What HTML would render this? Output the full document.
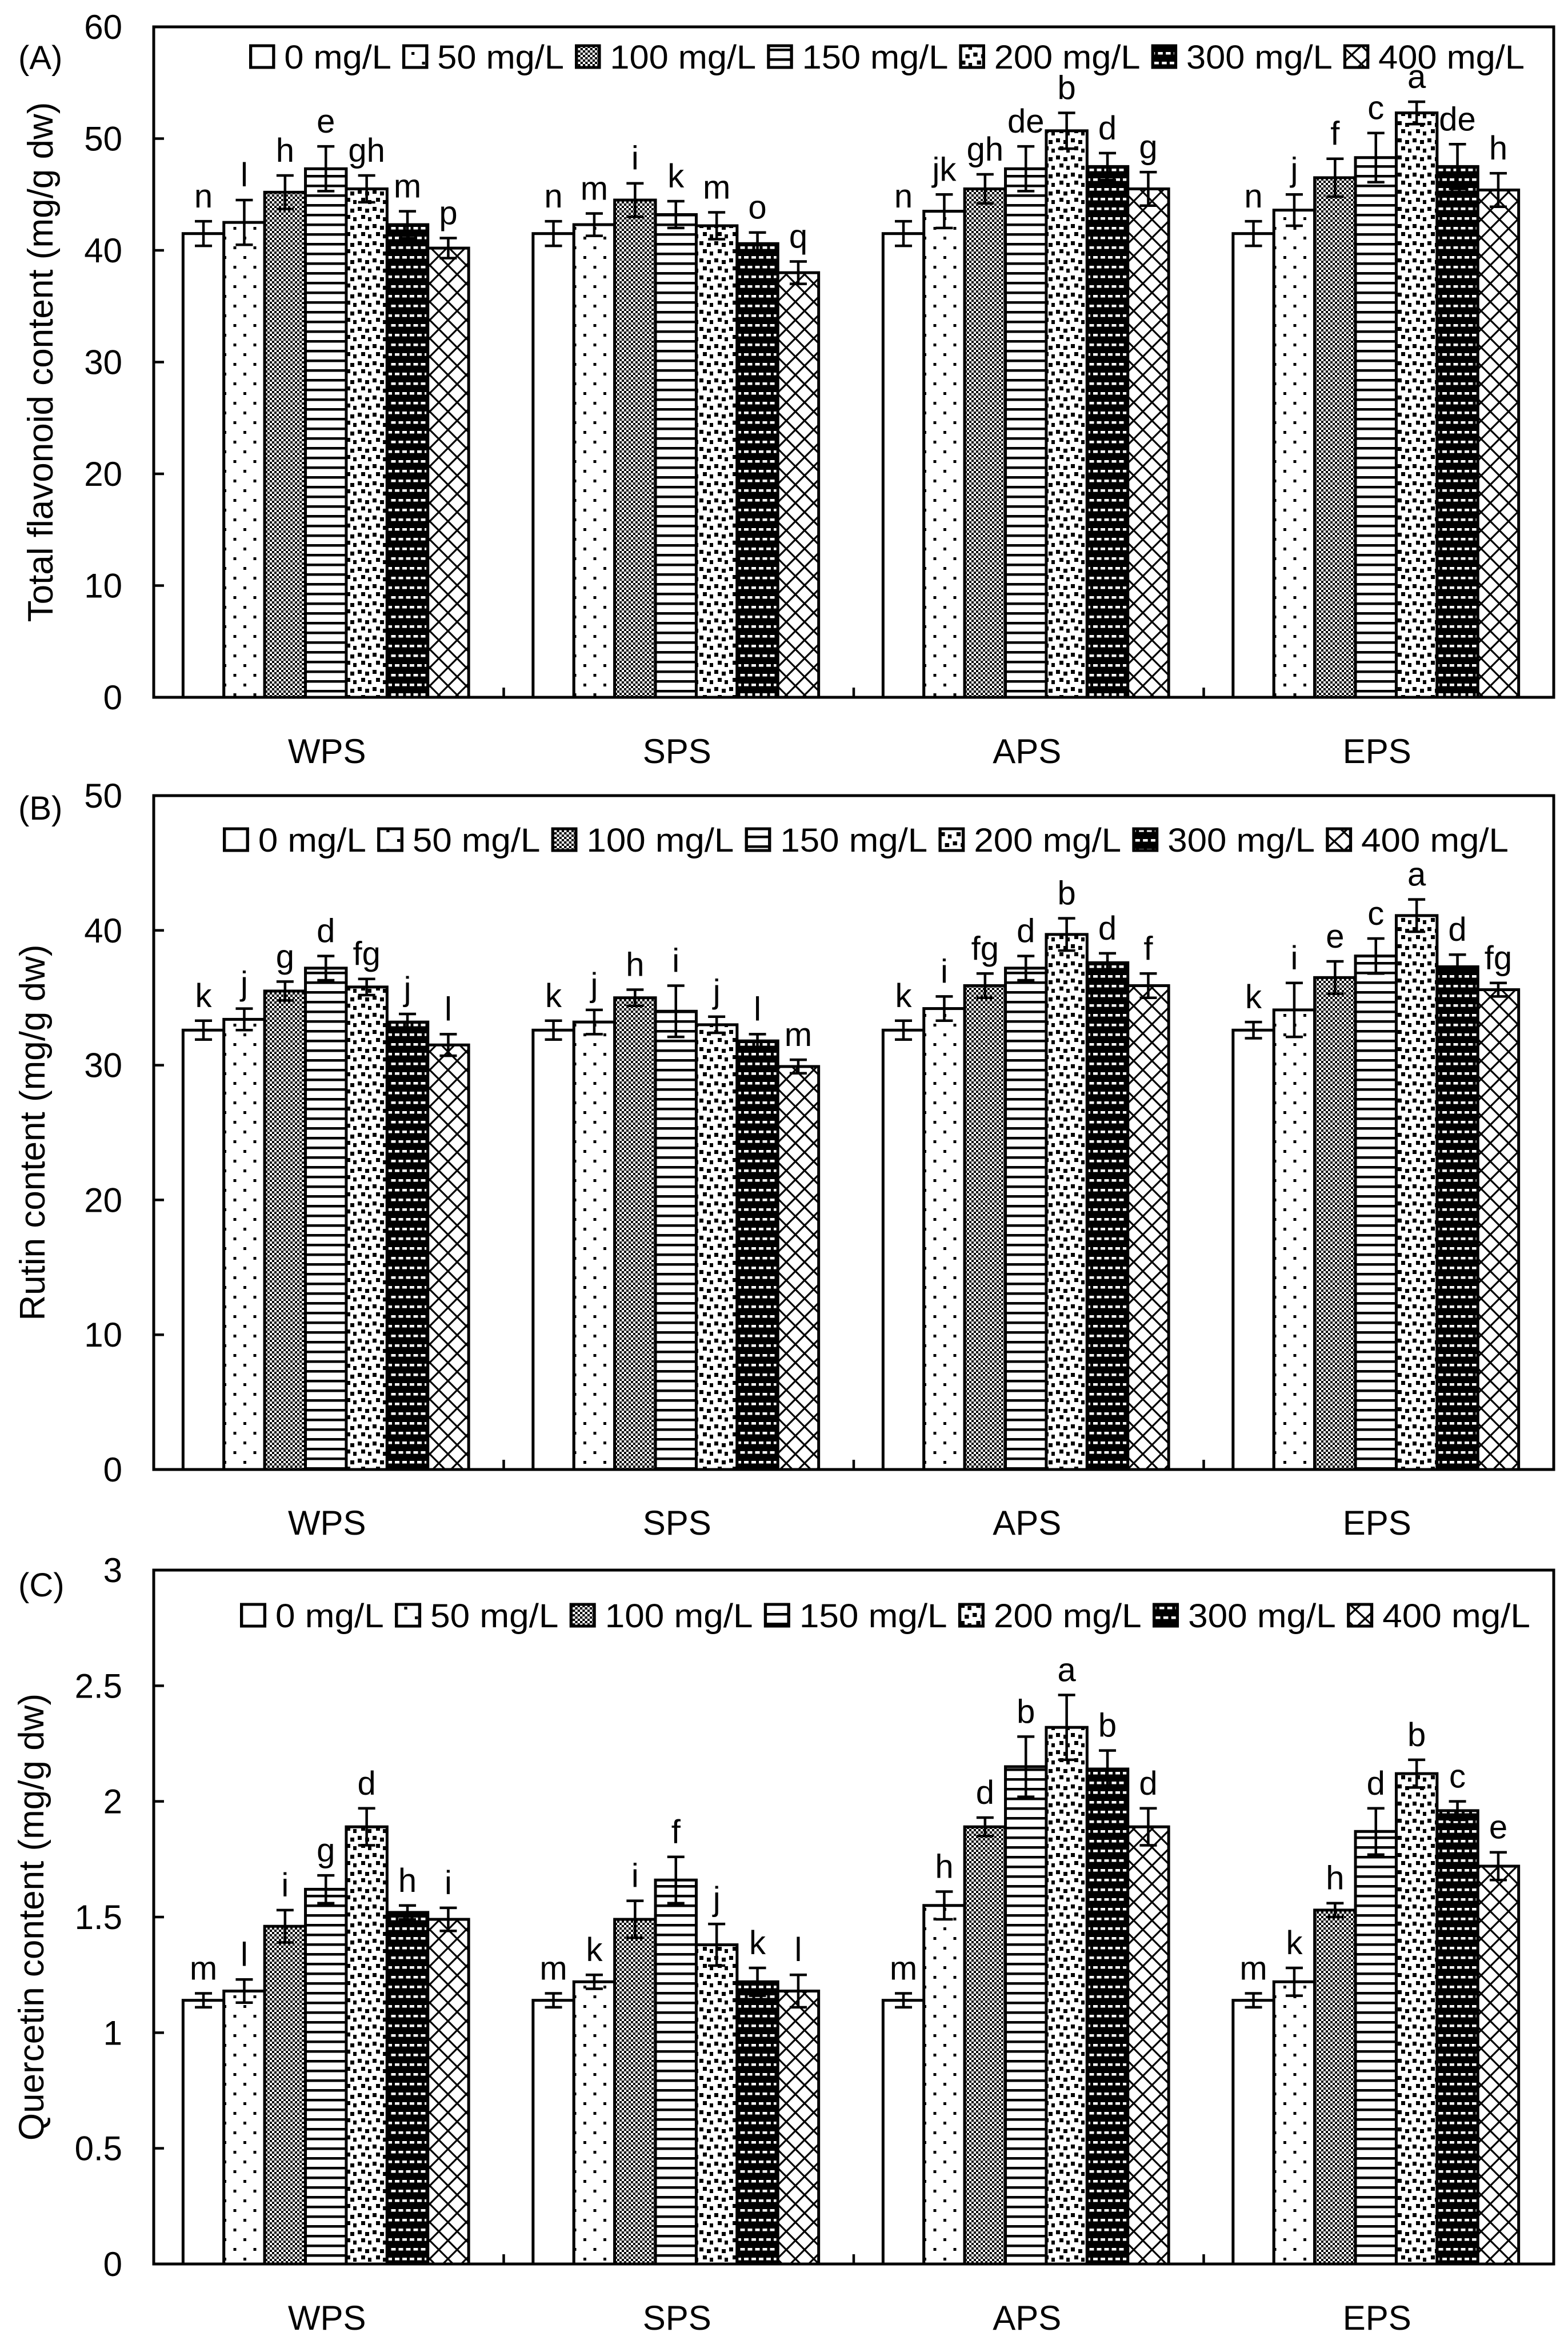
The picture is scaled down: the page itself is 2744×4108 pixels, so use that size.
<!DOCTYPE html>
<html><head><meta charset="utf-8"><style>
html,body{margin:0;padding:0;background:#fff}
svg{display:block}
text{font-family:"Liberation Sans",Arial,sans-serif;fill:#000}
</style></head>
<body>
<svg id="fig" xmlns="http://www.w3.org/2000/svg" width="2744" height="4108" viewBox="0 0 2744 4108">
<defs>
<pattern id="p0" patternUnits="userSpaceOnUse" width="10" height="10"><rect width="10" height="10" fill="#fff"/></pattern>
<pattern id="p50" patternUnits="userSpaceOnUse" width="35" height="34"><rect width="35" height="34" fill="#fff"/><rect x="6" y="6" width="5" height="5" fill="#000"/><rect x="23.5" y="23" width="5" height="5" fill="#000"/></pattern>
<pattern id="p100" patternUnits="userSpaceOnUse" width="8" height="8"><rect width="8" height="8" fill="#fff"/><rect x="0" y="0" width="4" height="4" fill="#000"/><rect x="4" y="4" width="4" height="4" fill="#000"/></pattern>
<pattern id="p150" patternUnits="userSpaceOnUse" width="20" height="17"><rect width="20" height="17" fill="#fff"/><rect x="0" y="0" width="20" height="4.5" fill="#000"/></pattern>
<pattern id="p200" patternUnits="userSpaceOnUse" width="26" height="30"><rect width="26" height="30" fill="#fff"/><rect x="2" y="2" width="7" height="7" fill="#000"/><rect x="15" y="5" width="7" height="7" fill="#000"/><rect x="8" y="16" width="7" height="7" fill="#000"/><rect x="20" y="20" width="7" height="7" fill="#000"/></pattern>
<pattern id="p300" patternUnits="userSpaceOnUse" width="26" height="34"><rect width="26" height="34" fill="#000"/><rect x="2" y="6" width="8" height="4.5" fill="#fff"/><rect x="15" y="6" width="8" height="4.5" fill="#fff"/><rect x="8.5" y="23" width="8" height="4.5" fill="#fff"/><rect x="21.5" y="23" width="8" height="4.5" fill="#fff"/><rect x="-4.5" y="23" width="8" height="4.5" fill="#fff"/></pattern>
<pattern id="p400" patternUnits="userSpaceOnUse" width="32" height="32"><rect width="32" height="32" fill="#fff"/><path d="M0 0L32 32M32 0L0 32" stroke="#000" stroke-width="3.2"/></pattern>
</defs>
<g id="root"></g>
</svg>
<script>
const categories = ["WPS","SPS","APS","EPS"];
const seriesNames = ["0 mg/L","50 mg/L","100 mg/L","150 mg/L","200 mg/L","300 mg/L","400 mg/L"];
const patterns = ["p0","p50","p100","p150","p200","p300","p400"];

const valuesA = [[41.5,42.5,45.2,47.3,45.5,42.3,40.2],[41.5,42.3,44.5,43.2,42.2,40.6,38.0],[41.5,43.5,45.5,47.3,50.7,47.5,45.5],[41.5,43.6,46.5,48.3,52.3,47.5,45.4]];
const errorsA = [[1.1,2.0,1.5,2.0,1.2,1.2,0.9],[1.1,1.0,1.5,1.2,1.2,1.0,1.0],[1.1,1.5,1.3,2.0,1.6,1.2,1.5],[1.1,1.4,1.7,2.2,1.0,2.0,1.5]];
const lettersA = [["n","l","h","e","gh","m","p"],["n","m","i","k","m","o","q"],["n","jk","gh","de","b","d","g"],["n","j","f","c","a","de","h"]];
const ticksA = ["0","10","20","30","40","50","60"];

const valuesB = [[32.6,33.4,35.5,37.2,35.8,33.2,31.5],[32.6,33.2,35.0,34.0,33.0,31.8,29.9],[32.6,34.2,35.9,37.2,39.7,37.6,35.9],[32.6,34.1,36.5,38.1,41.1,37.3,35.6]];
const errorsB = [[0.7,0.8,0.7,0.9,0.6,0.6,0.8],[0.7,0.9,0.6,1.9,0.6,0.5,0.5],[0.7,0.9,0.9,0.9,1.2,0.7,0.9],[0.6,2.0,1.2,1.3,1.2,0.9,0.5]];
const lettersB = [["k","j","g","d","fg","j","l"],["k","j","h","i","j","l","m"],["k","i","fg","d","b","d","f"],["k","i","e","c","a","d","fg"]];
const ticksB = ["0","10","20","30","40","50"];

const valuesC = [[1.14,1.18,1.46,1.62,1.89,1.52,1.49],[1.14,1.22,1.49,1.66,1.38,1.22,1.18],[1.14,1.55,1.89,2.15,2.32,2.14,1.89],[1.14,1.22,1.53,1.87,2.12,1.96,1.72]];
const errorsC = [[0.03,0.05,0.07,0.06,0.08,0.03,0.05],[0.03,0.03,0.08,0.10,0.09,0.06,0.07],[0.03,0.06,0.04,0.13,0.14,0.08,0.08],[0.03,0.06,0.03,0.10,0.06,0.04,0.06]];
const lettersC = [["m","l","i","g","d","h","i"],["m","k","i","f","j","k","l"],["m","h","d","b","a","b","d"],["m","k","h","d","b","c","e"]];
const ticksC = ["0","0.5","1","1.5","2","2.5","3"];

const NS = "http://www.w3.org/2000/svg";
const root = document.getElementById('root');
function mk(tag, attrs, parent){ const e=document.createElementNS(NS,tag); for(const k in attrs) e.setAttribute(k,attrs[k]); (parent||root).appendChild(e); return e; }

function panel(cfg){
  const g = mk('g',{});
  
  
  const L=269, R=2719, T=cfg.top, B=cfg.bottom;
  const maxV = parseFloat(cfg.ticks[cfg.ticks.length-1]);
  const y = v => B - (v/maxV)*(B-T);
  const band = (R-L)/categories.length;
  const bw = 71.4;
  cfg.values.forEach((vals,c)=>{
    const x0 = L + c*band + band/2 - 3.5*bw - 5;
    vals.forEach((v,s)=>{
      const bx = x0 + s*bw;
      const r = mk('rect',{x:bx,y:y(v),width:bw,height:B-y(v),fill:'url(#'+patterns[s]+')',stroke:'#000','stroke-width':5},g);
      
      
      const e = cfg.errors[c][s], cx = bx+bw/2;
      const eb = mk('path',{d:`M${cx} ${y(v-e)}V${y(v+e)}M${cx-15} ${y(v+e)}H${cx+15}M${cx-15} ${y(v-e)}H${cx+15}`,stroke:'#000','stroke-width':4.5,fill:'none'},g);
      
      
      const t = mk('text',{x:cx,y:y(v+e)-24,'text-anchor':'middle','font-size':58},g);
      t.textContent = cfg.letters[c][s];
      
      
    });
    const ct = mk('text',{x:L+c*band+band/2-3,y:cfg.catY,'text-anchor':'middle','font-size':60},g);
    ct.textContent = categories[c];
    
    
    if(c>0){ mk('line',{x1:L+c*band,x2:L+c*band,y1:B,y2:B-17,stroke:'#000','stroke-width':4.5},g); }
  });
  const fr = mk('rect',{x:L,y:T,width:R-L,height:B-T,fill:'none',stroke:'#000','stroke-width':5},g);
  
  
  cfg.ticks.forEach(tk=>{
    const v=parseFloat(tk), ty=y(v);
    mk('line',{x1:L,x2:L+18,y1:ty,y2:ty,stroke:'#000','stroke-width':4.5},g);
    const t = mk('text',{x:214,y:ty+21,'text-anchor':'end','font-size':60},g);
    t.textContent = tk;
    
    
  });
  const yt = mk('text',{x:0,y:0,'text-anchor':'middle','font-size':62,transform:`translate(${cfg.titleX},${(T+B)/2}) rotate(-90)`},g);
  yt.textContent = cfg.title;
  
  
  const pl = mk('text',{x:32,y:cfg.labelY+21,'font-size':58},g);
  pl.textContent = cfg.label;
  
  
  const lg = mk('g',{},g);
  
  
  let x = 0;
  const ly = cfg.legendY;
  seriesNames.forEach((n,s)=>{
    const eg = mk('g',{},lg);
    
    
    mk('rect',{x:x+2.5,y:ly-19,width:38,height:38,fill:'url(#'+patterns[s]+')',stroke:'#000','stroke-width':5},eg);
    const t = mk('text',{x:x+58,y:ly+21,'font-size':58},eg);
    t.textContent = n;
    x += 58 + t.getComputedTextLength() + 18;
  });
  x -= 18;
  const sx = (cfg.legendEnd-cfg.legendStart)/x;
  lg.setAttribute('transform',`translate(${cfg.legendStart},0) scale(${sx},1)`);
}

panel({name:'panel-a-total-flavonoid',top:47,bottom:1220,values:valuesA,errors:errorsA,letters:lettersA,ticks:ticksA,catY:1335,title:'Total flavonoid content (mg/g dw)',titleX:92,label:'(A)',labelY:100,legendY:99,legendStart:436,legendEnd:2668});
panel({name:'panel-b-rutin',top:1392,bottom:2571,values:valuesB,errors:errorsB,letters:lettersB,ticks:ticksB,catY:2685,title:'Rutin content (mg/g dw)',titleX:78,label:'(B)',labelY:1413,legendY:1469,legendStart:390,legendEnd:2640});
panel({name:'panel-c-quercetin',top:2747,bottom:3961,values:valuesC,errors:errorsC,letters:lettersC,ticks:ticksC,catY:4076,title:'Quercetin content (mg/g dw)',titleX:76,label:'(C)',labelY:2772,legendY:2826,legendStart:420,legendEnd:2678});
</script>
</body></html>
